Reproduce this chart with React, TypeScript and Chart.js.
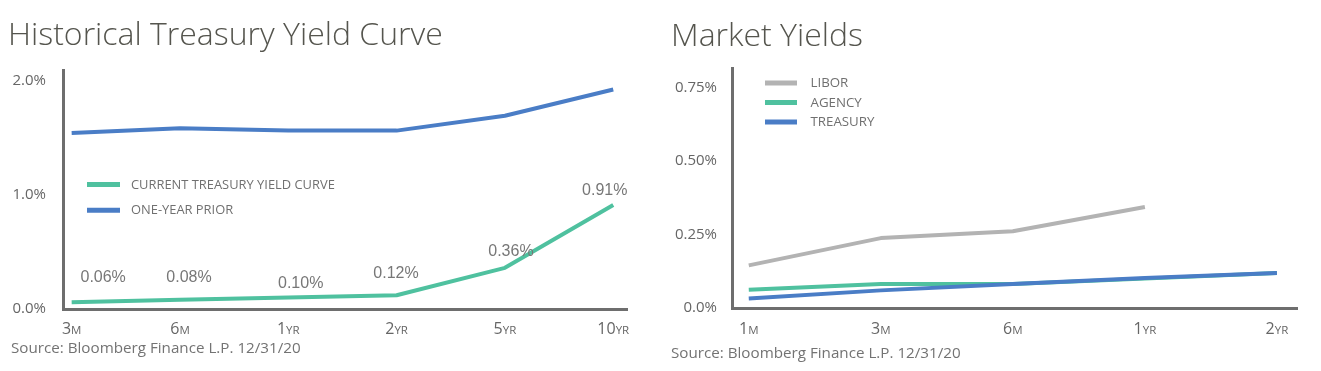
import React, { useEffect, useRef } from "react";
import { Chart, registerables } from "chart.js";

Chart.register(...registerables);

// ---------------- Data: Historical Treasury Yield Curve ----------------
const curveCategories = ["3M", "6M", "1YR", "2YR", "5YR", "10YR"];
const currentYield = [0.06, 0.08, 0.1, 0.12, 0.36, 0.91];
const priorYield = [1.54, 1.58, 1.56, 1.56, 1.69, 1.92];
const currentValueLabels = ["0.06%", "0.08%", "0.10%", "0.12%", "0.36%", "0.91%"];
const curveYTicks = [0, 1, 2];
const curveYTickLabels = ["0.0%", "1.0%", "2.0%"];
const curveSeriesNames = ["CURRENT TREASURY YIELD CURVE", "ONE-YEAR PRIOR"];

// ---------------- Data: Market Yields ----------------
const marketCategories = ["1M", "3M", "6M", "1YR", "2YR"];
const liborYield = [0.145, 0.238, 0.261, 0.344, null];
const agencyYield = [0.062, 0.082, 0.082, 0.1, 0.119];
const treasuryYield = [0.032, 0.06, 0.082, 0.102, 0.119];
const marketYTicks = [0, 0.25, 0.5, 0.75];
const marketYTickLabels = ["0.0%", "0.25%", "0.50%", "0.75%"];
const marketSeriesNames = ["LIBOR", "AGENCY", "TREASURY"];

const sourceText = "Source: Bloomberg Finance L.P. 12/31/20";

// ---------------- Styles ----------------
const GREEN = "#4fc19f";
const BLUE = "#4a7dc6";
const GRAY = "#b3b3b3";
const AXIS = "#6e6e6e";
const TEXT = "#666666";
const TITLE = "#55554e";

type Series = { label: string; data: (number | null)[]; color: string; order: number };
type Cfg = {
  categories: string[];
  series: Series[];
  yTicks: number[];
  yTickLabels: string[];
  yMax: number;
  xMin: number;
  xMax: number;
  width: number;
  height: number;
  area: { left: number; top: number; right: number; bottom: number };
  yLabelPad: number;
  xLabelDrop: number;
  legend: { x1: number; x2: number; y: number; gap: number; textX: number; font: number };
  valueLabels?: string[];
  valueOffsets?: number[][];
};

const curveCfg: Cfg = {
  categories: curveCategories,
  series: [
    { label: curveSeriesNames[0], data: currentYield, color: GREEN, order: 0 },
    { label: curveSeriesNames[1], data: priorYield, color: BLUE, order: 1 },
  ],
  yTicks: curveYTicks,
  yTickLabels: curveYTickLabels,
  yMax: 2.09,
  xMin: -0.08,
  xMax: 5.127,
  width: 660,
  height: 371,
  area: { left: 63, top: 70, right: 627, bottom: 309 },
  yLabelPad: 17,
  xLabelDrop: 25,
  legend: { x1: 87, x2: 120, y: 184.5, gap: 25.7, textX: 131, font: 12.9 },
  valueLabels: currentValueLabels,
  valueOffsets: [
    [31.5, -24.7],
    [9, -22.4],
    [12.4, -13.8],
    [-0.6, -21.5],
    [6, -16.4],
    [-8.5, -14],
  ],
};

const marketCfg: Cfg = {
  categories: marketCategories,
  series: [
    { label: marketSeriesNames[0], data: liborYield, color: GRAY, order: 2 },
    { label: marketSeriesNames[1], data: agencyYield, color: GREEN, order: 1 },
    { label: marketSeriesNames[2], data: treasuryYield, color: BLUE, order: 0 },
  ],
  yTicks: marketYTicks,
  yTickLabels: marketYTickLabels,
  yMax: 0.817,
  xMin: -0.127,
  xMax: 4.152,
  width: 661,
  height: 371,
  area: { left: 72, top: 68, right: 637, bottom: 308 },
  yLabelPad: 15,
  xLabelDrop: 26,
  legend: { x1: 105, x2: 137, y: 83, gap: 19.5, textX: 150.5, font: 13.3 },
};

function splitCat(c: string): [string, string] {
  const m = c.match(/^(\d+)(.*)$/);
  return m ? [m[1], m[2]] : [c, ""];
}

function makeConfig(cfg: Cfg): any {
  const overlay = {
    id: "overlay",
    afterDraw(chart: any) {
      const ctx = chart.ctx as CanvasRenderingContext2D;
      const xs = chart.scales.x;
      const area = chart.chartArea;
      ctx.save();
      // x tick labels (number + small caps suffix)
      ctx.fillStyle = TEXT;
      ctx.textBaseline = "alphabetic";
      ctx.textAlign = "left";
      const bigFont = "16px 'Open Sans'";
      const smallFont = "11.5px 'Open Sans'";
      cfg.categories.forEach((c, i) => {
        const [main, suf] = splitCat(c);
        const x = xs.getPixelForValue(i);
        ctx.font = bigFont;
        const w1 = ctx.measureText(main).width;
        ctx.font = smallFont;
        const w2 = ctx.measureText(suf).width;
        const start = x - (w1 + w2) / 2;
        const y = area.bottom + cfg.xLabelDrop;
        ctx.font = bigFont;
        ctx.fillText(main, start, y);
        ctx.font = smallFont;
        ctx.fillText(suf, start + w1, y);
      });
      // legend
      cfg.series.forEach((s, i) => {
        const y = cfg.legend.y + i * cfg.legend.gap;
        ctx.strokeStyle = s.color;
        ctx.lineWidth = 5;
        ctx.lineCap = "butt";
        ctx.beginPath();
        ctx.moveTo(cfg.legend.x1, y);
        ctx.lineTo(cfg.legend.x2, y);
        ctx.stroke();
        ctx.fillStyle = "#707070";
        ctx.font = `${cfg.legend.font}px 'Open Sans'`;
        ctx.textBaseline = "middle";
        ctx.fillText(s.label, cfg.legend.textX, y + 0.5);
      });
      // value labels
      if (cfg.valueLabels) {
        const meta = chart.getDatasetMeta(0);
        ctx.fillStyle = "#777777";
        ctx.font = "16px 'Liberation Sans'";
        ctx.textAlign = "center";
        ctx.textBaseline = "middle";
        cfg.valueLabels.forEach((t, i) => {
          const p = meta.data[i];
          const off = cfg.valueOffsets ? cfg.valueOffsets[i] : [0, -20];
          ctx.fillText(t, p.x + off[0], p.y + off[1]);
        });
      }
      ctx.restore();
    },
  };

  return {
    type: "line",
    data: {
      datasets: cfg.series.map((s) => ({
        label: s.label,
        data: s.data
          .map((v, i) => ({ x: i, y: v }))
          .filter((p) => p.y !== null),
        borderColor: s.color,
        backgroundColor: s.color,
        borderWidth: 4,
        pointRadius: 0,
        tension: 0,
        fill: false,
        order: s.order,
        borderJoinStyle: "round",
      })),
    },
    options: {
      responsive: false,
      animation: false,
      events: [],
      layout: {
        padding: { top: cfg.area.top, right: cfg.width - cfg.area.right, left: 0, bottom: 0 },
      },
      plugins: {
        legend: { display: false },
        tooltip: { enabled: false },
        title: { display: false },
      },
      scales: {
        x: {
          type: "linear",
          min: cfg.xMin,
          max: cfg.xMax,
          grid: { display: false, drawTicks: false },
          border: { display: true, color: AXIS, width: 3 },
          ticks: { display: false },
          afterBuildTicks: (s: any) => {
            s.ticks = cfg.categories.map((_, i) => ({ value: i }));
          },
          afterFit: (s: any) => {
            s.height = cfg.height - cfg.area.bottom;
            s.paddingLeft = 0;
            s.paddingRight = 0;
          },
        },
        y: {
          type: "linear",
          min: 0,
          max: cfg.yMax,
          grid: { display: false, drawTicks: false },
          border: { display: true, color: AXIS, width: 3 },
          ticks: {
            padding: cfg.yLabelPad,
            color: TEXT,
            font: { family: "'Open Sans'", size: 15 },
            callback: (v: number) => {
              const k = cfg.yTicks.findIndex((t) => Math.abs(t - v) < 1e-9);
              return k >= 0 ? cfg.yTickLabels[k] : "";
            },
          },
          afterBuildTicks: (s: any) => {
            s.ticks = cfg.yTicks.map((v) => ({ value: v }));
          },
          afterFit: (s: any) => {
            s.width = cfg.area.left;
            s.paddingTop = 0;
            s.paddingBottom = 0;
          },
        },
      },
    },
    plugins: [overlay],
  };
}

function LineChart({ cfg, left }: { cfg: Cfg; left: number }) {
  const ref = useRef<HTMLCanvasElement | null>(null);
  useEffect(() => {
    if (!ref.current) return;
    const chart = new Chart(ref.current, makeConfig(cfg));
    return () => chart.destroy();
  }, [cfg]);
  return (
    <canvas
      ref={ref}
      width={cfg.width}
      height={cfg.height}
      style={{ position: "absolute", left, top: 0, width: cfg.width, height: cfg.height }}
    />
  );
}

const titleStyle: React.CSSProperties = {
  position: "absolute",
  fontFamily: "'Open Sans', sans-serif",
  fontWeight: 300,
  fontSize: 32,
  lineHeight: "32px",
  color: TITLE,
  whiteSpace: "nowrap",
};

const sourceStyle: React.CSSProperties = {
  position: "absolute",
  fontFamily: "'Open Sans', sans-serif",
  fontSize: 15.2,
  lineHeight: "15px",
  color: "#737373",
  whiteSpace: "nowrap",
};

export default function App() {
  useEffect(() => {
    document.body.style.margin = "0";
    document.body.style.background = "#ffffff";
  }, []);
  return (
    <div style={{ position: "relative", width: 1321, height: 371, overflow: "hidden", background: "#fff" }}>
      <LineChart cfg={curveCfg} left={0} />
      <LineChart cfg={marketCfg} left={660} />
      <div style={{ ...titleStyle, left: 8, top: 16.5 }}>Historical Treasury Yield Curve</div>
      <div style={{ ...titleStyle, left: 671, top: 18 }}>Market Yields</div>
      <div style={{ ...sourceStyle, left: 11, top: 340 }}>{sourceText}</div>
      <div style={{ ...sourceStyle, left: 671, top: 345 }}>{sourceText}</div>
    </div>
  );
}
